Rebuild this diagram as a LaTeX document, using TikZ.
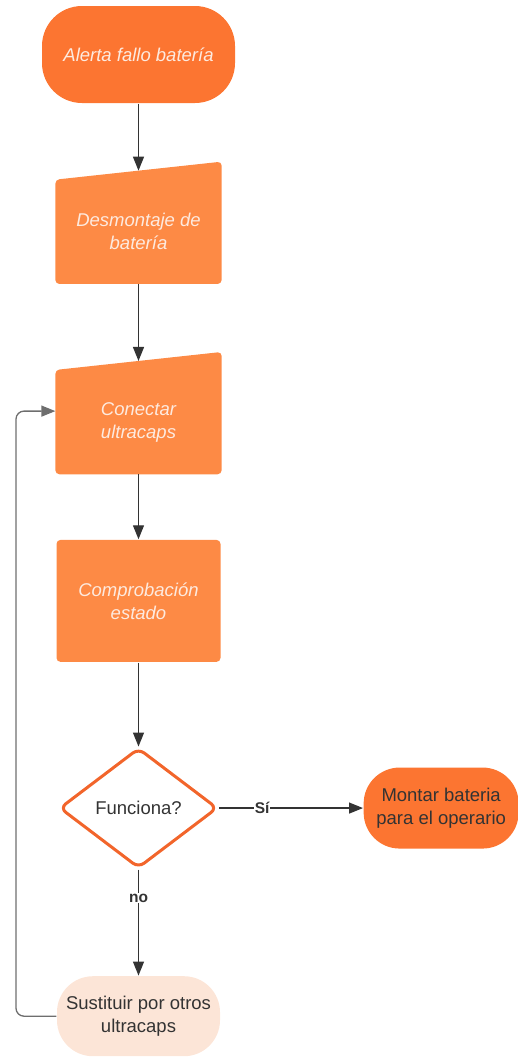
\documentclass[tikz,border=0pt]{standalone}
\usepackage{fontspec}
\setmainfont{Liberation Sans}
\usepackage{tikz}
\usetikzlibrary{arrows.meta}
\usetikzlibrary{positioning}
\usetikzlibrary{shapes.geometric}
\usetikzlibrary{backgrounds}
\usepackage{xcolor}
\definecolor{alertorange}{HTML}{FC7531}
\definecolor{stepfill}{HTML}{FD8A45}
\definecolor{decisionred}{HTML}{F2652B}
\definecolor{peach}{HTML}{FCE5D7}
\definecolor{softtext}{HTML}{FDEADF}
\definecolor{darktext}{HTML}{333333}
\definecolor{loopgray}{HTML}{6E6E6E}

\begin{document}
\begin{tikzpicture}[x=1pt, y=-1pt, >={Triangle[length=14pt,width=11pt]},
    line width=1.3pt, node distance=80pt, align=center,
    every node/.style={font=\fontsize{18.5}{23}\selectfont},
    terminal/.style={rectangle, rounded corners=40pt, fill=alertorange, minimum width=193pt, minimum height=97pt},
    manual/.style={rectangle, minimum width=165pt, minimum height=103pt, text=softtext, font=\fontsize{18.5}{23}\selectfont\itshape},
    process/.style={rectangle, rounded corners=4pt, fill=stepfill, minimum width=164pt, minimum height=122pt, text=softtext, font=\fontsize{18.5}{23}\selectfont\itshape},
    decision/.style={diamond, draw=decisionred, line width=3pt, fill=white, rounded corners=7pt, minimum width=158pt, minimum height=120pt, inner sep=0pt, text=darktext},
    branch/.style={fill=white, inner sep=0.5pt, text=darktext, font=\fontsize{15.5}{18}\selectfont\bfseries},
    link/.style={->, draw=darktext}]
  \useasboundingbox (0,0) rectangle (517,1058);
  \node[terminal, text=softtext, font=\fontsize{18.5}{23}\selectfont\itshape] (A) at (138.5,54.5) {Alerta fallo batería};
  \node[manual, below=76pt of A] (D) {Desmontaje de\\batería};
  \node[manual, below=86pt of D] (C) {Conectar\\ultracaps};
  \node[process, below=65pt of C] (P) {Comprobación\\estado};
  \node[decision, below=84pt of P] (F) {Funciona?};
  \node[terminal, minimum width=155pt, minimum height=81pt, rounded corners=36pt, text=darktext, right=144pt of F] (M) {Montar bateria\\para el operario};
  \node[terminal, fill=peach, minimum width=163pt, minimum height=80pt, rounded corners=36pt, text=darktext, below=106pt of F] (S) {Sustituir por otros\\ultracaps};
  \coordinate (back) at (16,0);
  % slanted tops of the manual steps
  \begin{scope}[on background layer]
    \foreach \n in {D,C}
      \fill[stepfill, rounded corners=4pt] (\n.south west) -- (\n.north west) -- ([yshift=18pt]\n.north east) -- (\n.south east) -- cycle;
  \end{scope}
  \draw[link] (A) -- ([yshift=9pt]D.north);
  \draw[link] (D) -- ([yshift=9pt]C.north);
  \draw[link] (C) -- (P);
  \draw[link] (P) -- (F);
  \draw[link] (F) -- node[branch, pos=0.3] {Sí} (M);
  \draw[link] (F) -- node[branch, pos=0.27] {no} (S);
  \draw[link, draw=loopgray, rounded corners=8pt] (S.west) -- (S.west -| back) |- ([yshift=11pt]C.west);
\end{tikzpicture}
\end{document}
